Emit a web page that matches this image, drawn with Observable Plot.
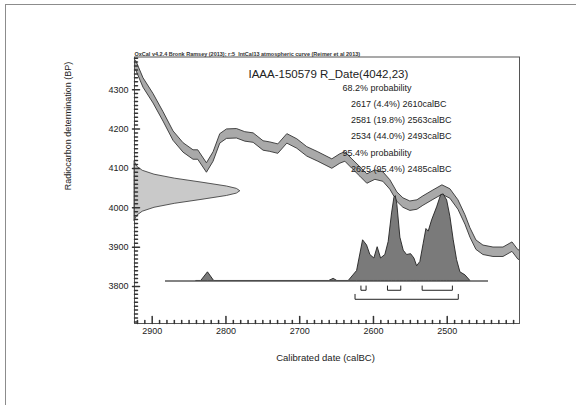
<!DOCTYPE html>
<html><head><meta charset="utf-8">
<script src="https://cdn.jsdelivr.net/npm/d3@7"></script>
<script src="https://cdn.jsdelivr.net/npm/@observablehq/plot@0.6"></script>
<style>
html,body{margin:0;padding:0;background:#fff;}
#wrap{position:relative;width:576px;height:405px;overflow:hidden;background:#fff;}
#chart{position:absolute;left:0;top:0;}
#border{position:absolute;left:5px;top:4px;width:700px;height:500px;border-left:1.5px solid #8c8c8c;border-top:1.5px solid #8c8c8c;}
</style></head><body>
<div id="wrap"><div id="chart"></div><div id="border"></div></div>
<script>
// ---- data ----
const headerText = "OxCal v4.2.4 Bronk Ramsey (2013); r:5  IntCal13 atmospheric curve (Reimer et al 2013)";
const titleText = "IAAA-150579 R_Date(4042,23)";
const annoLines = ["68.2% probability","2617 (4.4%) 2610calBC","2581 (19.8%) 2563calBC","2534 (44.0%) 2493calBC","95.4% probability","2625 (95.4%) 2485calBC"];
const xLabel = "Calibrated date (calBC)";
const yLabel = "Radiocarbon determination (BP)";
const xTickLabels = [2900,2800,2700,2600,2500];
const yTickLabels = [3800,3900,4000,4100,4200,4300];

// calibration curve (IntCal13) centre, cal BC vs BP
const curveYear = [2926,2921.7,2911.8,2898.2,2884.7,2871.1,2857.5,2844,2837.6,2825.8,2816.8,2807.7,2798.6,2785.1,2773.8,2762.5,2749,2739.9,2729,2716.8,2703.3,2689.7,2674.8,2655.8,2644.9,2638.1,2628.6,2617.8,2608.3,2597.4,2586.6,2577.1,2567.6,2559.4,2550,2540.4,2532.3,2518.7,2506.5,2495.7,2484.8,2475.3,2468.5,2460.4,2450.9,2437.3,2423.7,2411.5,2403.4,2398];
const curveBP = [4366,4361,4317,4277,4231,4182,4152,4134,4134,4101,4129,4175,4187,4188,4180,4177,4157,4154,4149,4175,4162,4142,4129,4111,4124,4129,4111,4091,4073,4083,4078,4058,4027,4012,4004,4007,4017,4032,4045,4035,4007,3969,3936,3905,3892,3887,3887,3900,3880,3878];
const curveErr = 12;

// radiocarbon measurement distribution (4042 ± 23 BP)
const radioBP = [3966,3970,3980,3990,4000,4010,4020,4030,4036,4042,4048,4054,4064,4074,4084,4094,4104,4114,4118];
const radioDensity = [0.003,0.0074,0.0264,0.0776,0.189,0.380,0.633,0.873,0.967,1,0.967,0.873,0.633,0.380,0.189,0.0776,0.0264,0.0074,0.003];

// calibrated probability distribution (relative)
const postYear = [2840,2833.6,2824.4,2816,2660,2654,2649,2633.6,2622.2,2614.1,2608.7,2604.2,2598.8,2594.3,2589.7,2583.9,2579.4,2574.8,2571.6,2569.8,2567.6,2563.5,2559,2554.4,2549,2544.5,2540.8,2536.4,2531.9,2528.2,2525.1,2520.5,2513.7,2508.3,2504.8,2500.1,2495.7,2491.2,2486.6,2482.1,2475.3,2468.5];
const postProb = [0,0,0.10,0,0,0.025,0,0,0.115,0.47,0.41,0.30,0.26,0.39,0.26,0.30,0.45,0.78,0.96,0.98,0.88,0.50,0.35,0.30,0.31,0.26,0.17,0.22,0.43,0.60,0.57,0.70,0.85,0.99,1.0,0.93,0.74,0.47,0.24,0.10,0.065,0];
const baselineRange = [2882, 2444];

// highest probability ranges
const range68Start = [2617,2581,2534];
const range68End = [2610,2563,2493];
const range95Start = [2625];
const range95End = [2485];

// ---- layout ----
const X0 = 2924, X1 = 2402, Y0 = 3706, Y1 = 4383;
const baseBP = 3814, postScale = 220, radioWidth = 143.5;
const font = "'Liberation Sans', Arial, sans-serif";

const curve = curveYear.map((x,i)=>({x, lo: curveBP[i]-curveErr, hi: curveBP[i]+curveErr}));
const radio = radioBP.map((y,i)=>({y, d: radioDensity[i]}));
const post = postYear.map((x,i)=>({x, p: postProb[i]}));

function brackets(starts, ends, top, bot, id) {
  const out = [];
  starts.forEach((s,i)=>{
    const e = ends[i];
    out.push({x:s,y:top,z:id+i},{x:s,y:bot,z:id+i},{x:e,y:bot,z:id+i},{x:e,y:top,z:id+i});
  });
  return out;
}
const br = [...brackets(range68Start, range68End, baseBP-12.7, baseBP-23.6, "a"),
            ...brackets(range95Start, range95End, baseBP-34, baseBP-46.5, "b")];

const tickShape = {draw(c, l){ c.moveTo(0,0); c.lineTo(0,-l); }};
const xMinor = d3.range(2410, 2921, 10).filter(v => v % 100 !== 0);
const xMajor = xTickLabels;
const yMinor = d3.range(3710, 4381, 10).filter(v => v % 100 !== 0);
const yMajor = yTickLabels;

const annoMarks = annoLines.map((t,i)=>Plot.text([t], {
  frameAnchor: "top-left", textAnchor: "start",
  dx: t.includes("probability") ? 208 : 216.5,
  dy: 27.3 + i*16.25, fontSize: 9, fill: "#222",
  style: "letter-spacing:0.4px"
}));

const chart = Plot.plot({
  width: 576, height: 405,
  marginLeft: 134, marginRight: 57, marginTop: 56.5, marginBottom: 82,
  style: {fontFamily: font, fontSize: "9px", color: "#222", background: "transparent"},
  x: {domain: [X0, X1], label: null},
  y: {domain: [Y0, Y1], label: null},
  marks: [
    Plot.areaY(curve, {x: "x", y1: "lo", y2: "hi", fill: "#a9a9a9", stroke: "#333", strokeWidth: 0.9, clip: true}),
    Plot.areaX(radio, {y: "y", x1: X0, x2: d => X0 - d.d*radioWidth, fill: "#c9c9c9", stroke: "#444", strokeWidth: 0.9}),
    Plot.areaY(post, {x: "x", y1: baseBP, y2: d => baseBP + d.p*postScale, fill: "#7a7a7a", stroke: "#222", strokeWidth: 0.9}),
    Plot.ruleY([baseBP], {x1: baselineRange[0], x2: baselineRange[1], stroke: "#5a5a5a", strokeWidth: 1.3}),
    Plot.line(br, {x: "x", y: "y", z: "z", stroke: "#222", strokeWidth: 1}),
    Plot.frame({stroke: "#555", strokeWidth: 1}),
    Plot.vector(xMinor, {x: d=>d, frameAnchor: "bottom", length: 3, anchor: "start", shape: tickShape, stroke: "#333"}),
    Plot.vector(xMajor, {x: d=>d, frameAnchor: "bottom", length: 7, anchor: "start", shape: tickShape, stroke: "#333"}),
    Plot.vector(yMinor, {y: d=>d, frameAnchor: "left", rotate: 90, length: 3, anchor: "start", shape: tickShape, stroke: "#333"}),
    Plot.vector(yMajor, {y: d=>d, frameAnchor: "left", rotate: 90, length: 7, dx: -2, anchor: "start", shape: tickShape, stroke: "#333"}),
    Plot.axisX({ticks: xTickLabels, tickSize: 0, tickPadding: 4, tickFormat: d => String(d), fontSize: 9, label: null}),
    Plot.axisY({ticks: yTickLabels, tickSize: 0, tickPadding: 6, tickFormat: d => String(d), fontSize: 9, label: null}),
    Plot.text([headerText], {frameAnchor: "top-left", textAnchor: "start", dy: -4.8, fontSize: 5.5, fontWeight: "bold", fill: "#333"}),
    Plot.text([titleText], {frameAnchor: "top-left", textAnchor: "start", dx: 114, dy: 12.8, fontSize: 11.5, fill: "#222"}),
    ...annoMarks,
    Plot.text([xLabel], {frameAnchor: "bottom", dx: -1.5, dy: 37, fontSize: 9.5, fill: "#222", style: "letter-spacing:0.3px"}),
    Plot.text([yLabel], {frameAnchor: "left", dx: -66, rotate: -90, fontSize: 9, fill: "#222", style: "letter-spacing:0.1px"})
  ]
});
document.getElementById("chart").appendChild(chart);
</script>
</body></html>
